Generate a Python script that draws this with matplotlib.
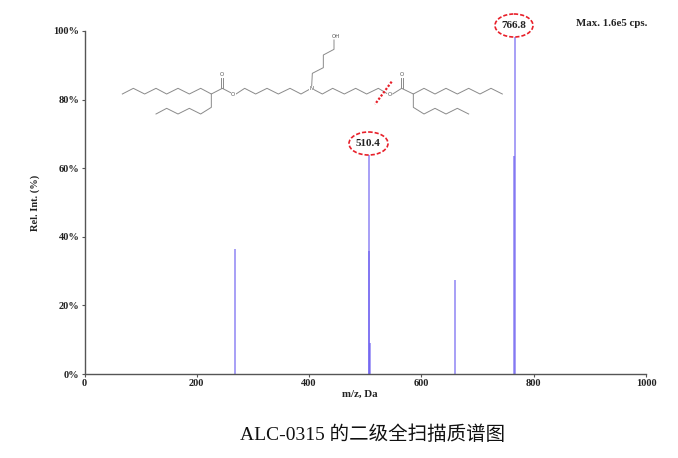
import matplotlib
matplotlib.use("Agg")
import matplotlib.pyplot as plt
from matplotlib.patches import Ellipse

mz_values = [268, 507, 507, 508, 659, 765, 766.8]
rel_intensity = [36.5, 64, 36, 9, 27.5, 63.5, 100]
x_ticks = [0, 200, 400, 600, 800, 1000]
y_ticks = [0, 20, 40, 60, 80, 100]
y_tick_labels = ["0%", "20%", "40%", "60%", "80%", "100%"]
peak_labels = ["510.4", "766.8"]
title = "ALC-0315 的二级全扫描质谱图"

# Chemical structure sketch: bond chains, in zoomed reference pixels
bond_chains = [
    [(37,222),(70,205),(104,222),(138,205),(170,222),(204,205),(238,222),(272,205),(304,222),(337,205),(362,218)],
    [(304,222),(304,262),(272,282),(238,265),(204,282),(170,265),(138,282)],
    [(333,205),(333,173)], [(340,205),(340,173)],
    [(378,222),(404,205),(437,222),(471,205),(505,222),(540,205),(573,222),(600,207)],
    [(605,198),(607,160),(640,143),(640,105),(672,88),(672,60)],
    [(612,209),(637,222),(668,205),(703,222),(737,205),(770,222),(805,205),(830,220)],
    [(848,222),(875,205),(910,222),(942,205),(975,222),(1008,205),(1042,222),(1076,205),(1110,222),(1143,205),(1177,222)],
    [(910,222),(910,262),(942,282),(975,265),(1008,282),(1042,265),(1076,282)],
    [(872,205),(872,173)], [(879,205),(879,173)],
]
atom_labels = [("OH",(678,50)),("O",(337,165)),("O",(370,224)),("N",(605,205)),("O",(875,165)),("O",(840,224))]
cleavage = [(845,185),(795,253)]

W, H = 678, 458
plt.rcParams["font.family"] = ["Liberation Serif", "Noto Sans CJK SC"]
fig = plt.figure(figsize=(W/100, H/100), dpi=100)
ax = fig.add_axes([84.5/W, 1-374/H, (646-84.5)/W, (374-31)/H])

ax.vlines(mz_values, 0, rel_intensity, colors="#6a5cf0", linewidth=1.1, alpha=0.75, zorder=2)
ax.set_xlim(0, 1000)
ax.set_ylim(0, 100)
ax.set_xticks(x_ticks)
ax.set_yticks(y_ticks)
ax.set_yticklabels(y_tick_labels)
for s in ("top", "right"):
    ax.spines[s].set_visible(False)
for s in ("left", "bottom"):
    ax.spines[s].set_color("#555555")
    ax.spines[s].set_linewidth(1.0)
ax.tick_params(length=2, width=0.8, color="#555555", labelsize=7.5, pad=1.5, labelcolor="#222222")
for t in ax.get_xticklabels() + ax.get_yticklabels():
    t.set_fontweight("bold")
fig.text(360/W, 1-394/H, "m/z, Da", fontsize=7.8, fontweight="bold", color="#222222", ha="center", va="center")
fig.text(35/W, 1-203/H, "Rel. Int. (%)", fontsize=7.5, fontweight="bold", color="#222222", rotation=90, ha="center", va="center")

fig.text(611.5/W, 1-23.5/H, "Max. 1.6e5 cps.", fontsize=7.8, fontweight="bold", color="#222222", ha="center", va="center")
fig.text(372.5/W, 1-435/H, title, fontsize=14, color="#111111", ha="center", va="center")

ov = fig.add_axes([0, 0, 1, 1], facecolor="none")
ov.set_xlim(0, W); ov.set_ylim(H, 0); ov.axis("off")
def zx(p): return (110 + p[0]/3, 20 + p[1]/3)
for chain in bond_chains:
    pts = [zx(p) for p in chain]
    ov.plot([p[0] for p in pts], [p[1] for p in pts], color="#8a8a8a", lw=0.7, solid_joinstyle="miter")
for txt, p in atom_labels:
    x, y = zx(p)
    ov.text(x, y, txt, fontsize=4, color="#555555", ha="center", va="center",
            family=["DejaVu Sans"], bbox=dict(fc="white", ec="none", pad=0.2) if txt != "OH" else None)
c = [zx(p) for p in cleavage]
ov.plot([c[0][0], c[1][0]], [c[0][1], c[1][1]], color="#e8202a", lw=1.6, ls=(0, (1, 0.8)))
for label, (cx, cy, w, h) in zip(peak_labels, [(368.5, 143.5, 39, 23), (514, 25.5, 38, 23)]):
    ov.add_patch(Ellipse((cx, cy), w, h, fc="white", ec="#e8202a", lw=1.2, ls=(0, (2.5, 1.2)), zorder=5))
    ov.text(cx, cy, label, fontsize=8, fontweight="bold", color="#222222", ha="center", va="center", zorder=6)

fig.savefig("out.png", dpi=100)
